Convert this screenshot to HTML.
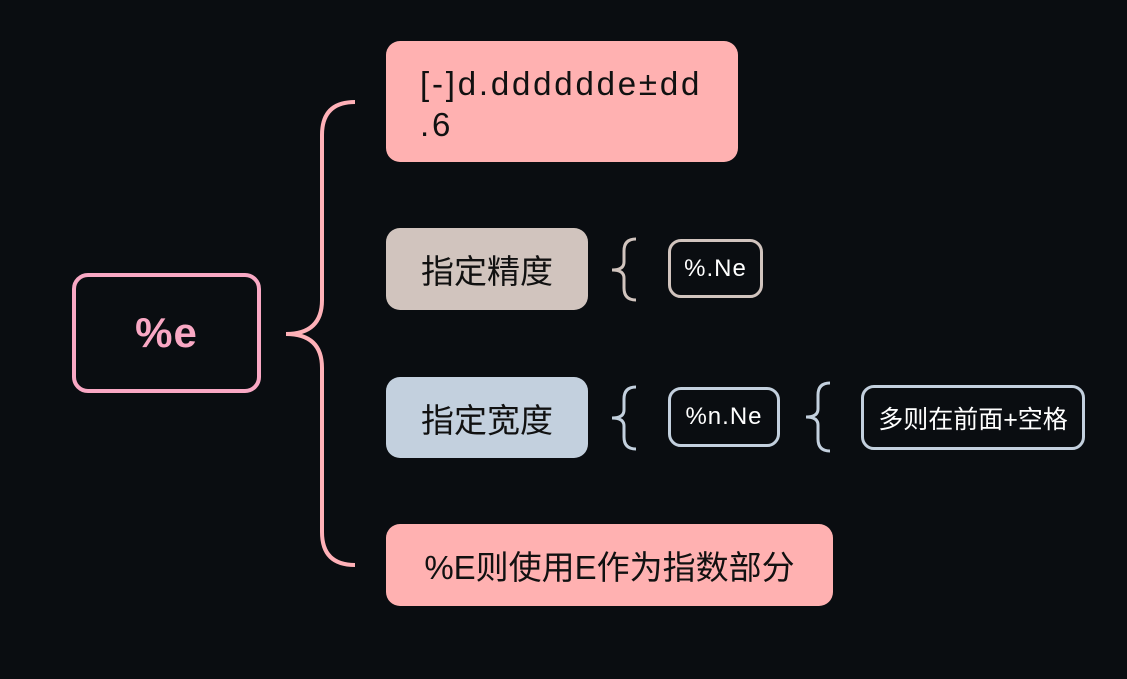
<!DOCTYPE html>
<html><head><meta charset="utf-8"><style>
body{margin:0;width:1127px;height:679px;background:#0a0d11;position:relative;overflow:hidden;font-family:"Liberation Sans","Noto Sans CJK SC",sans-serif}
.n{position:absolute;box-sizing:border-box;display:flex;align-items:center;justify-content:center;color:#111}
.f{border-radius:14px;font-size:33px}
.o{border:3px solid;border-radius:13px;color:#fff;font-size:24px;letter-spacing:1px}
</style></head><body>
<svg width="1127" height="679" style="position:absolute;left:0;top:0">
<g fill="none" stroke-width="4">
<path d="M355 102 Q322 102 322 135 L322 300 Q322 334 286 334 Q322 334 322 368 L322 532 Q322 565 355 565" stroke="#ffb1b8"/>
</g>
<g fill="none" stroke-width="3">
<path d="M636 239 Q624 239 624 251 L624 262 Q624 270 612 270 Q624 270 624 278 L624 288 Q624 300 636 300" stroke="#d1c4be"/>
<path d="M636 387 Q624 387 624 399 L624 410 Q624 418 612 418 Q624 418 624 426 L624 437 Q624 449 636 449" stroke="#c3d0de"/>
<path d="M830 383 Q818 383 818 395 L818 409 Q818 417 806 417 Q818 417 818 425 L818 439 Q818 451 830 451" stroke="#c3d0de"/>
</g>
</svg>
<div class="n" style="left:72px;top:273px;width:189px;height:120px;border:4px solid #f9a8c4;border-radius:16px;color:#f9a8c4;font-size:42px;font-weight:bold;letter-spacing:1px">%e</div>
<div class="n f" style="left:386px;top:41px;width:352px;height:121px;background:#ffb1b1;display:block;padding:22px 0 0 34px;line-height:41px;letter-spacing:2.8px">[-]d.dddddde±dd<br>.6</div>
<div class="n f" style="left:386px;top:228px;width:202px;height:82px;background:#d1c4be">指定精度</div>
<div class="n o" style="left:668px;top:239px;width:95px;height:59px;border-color:#d1c4be">%.Ne</div>
<div class="n f" style="left:386px;top:377px;width:202px;height:81px;background:#c3d0de">指定宽度</div>
<div class="n o" style="left:668px;top:387px;width:112px;height:60px;border-color:#c3d0de">%n.Ne</div>
<div class="n o" style="left:861px;top:385px;width:224px;height:65px;border-color:#c3d0de;font-size:25px;letter-spacing:0">多则在前面+空格</div>
<div class="n f" style="left:386px;top:524px;width:447px;height:82px;background:#ffb1b1">%E则使用E作为指数部分</div>
</body></html>
